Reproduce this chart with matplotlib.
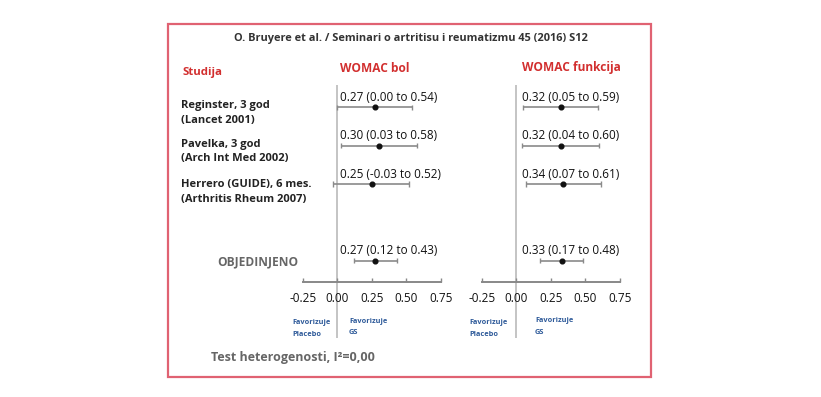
import matplotlib.pyplot as plt
from matplotlib.patches import Rectangle

plt.rcParams['font.family'] = ['Open Sans', 'DejaVu Sans']
plt.rcParams['axes.unicode_minus'] = False

# data
studies = ["Reginster, 3 god", "Pavelka, 3 god", "Herrero (GUIDE), 6 mes."]
sources = ["(Lancet 2001)", "(Arch Int Med 2002)", "(Arthritis Rheum 2007)"]
pain_est = [0.27, 0.30, 0.25, 0.27]
pain_lo = [0.00, 0.03, -0.03, 0.12]
pain_hi = [0.54, 0.58, 0.52, 0.43]
func_est = [0.32, 0.32, 0.34, 0.33]
func_lo = [0.05, 0.04, 0.07, 0.17]
func_hi = [0.59, 0.60, 0.61, 0.48]
ticks = [-0.25, 0.00, 0.25, 0.50, 0.75]

W, H = 821, 397
RED = '#d22f2f'
GRAY = '#666666'
BLUE = '#2f5b9a'
rows = [0, 1, 2, 4]          # pooled row sits lower


def px(x, y):
    return x / W, 1 - y / H


fig = plt.figure(figsize=(W / 100, H / 100), dpi=100)

# frame
fig.patches.append(Rectangle(px(168, 377), (651 - 168) / W, (377 - 24) / H,
                             transform=fig.transFigure, fill=False,
                             edgecolor='#e06272', lw=1.6))

fig.text(*px(411, 39), "O. Bruyere et al. / Seminari o artritisu i reumatizmu 45 (2016) S12",
         ha='center', va='center', fontsize=7.9, weight='bold', color='#333')
fig.text(*px(182, 72), "Studija", ha='left', va='center', fontsize=8.2, weight='bold', color=RED)
fig.text(*px(340, 68), "WOMAC bol", ha='left', va='center', fontsize=8.6, weight='bold', color=RED)
fig.text(*px(522, 68), "WOMAC funkcija", ha='left', va='center', fontsize=8.6, weight='bold', color=RED)

label_y = [(106, 121), (144, 158), (184, 199)]
for name, src, (y1, y2) in zip(studies, sources, label_y):
    fig.text(*px(181, y1), name, ha='left', va='center', fontsize=8, weight='bold', color='#222')
    fig.text(*px(181, y2), src, ha='left', va='center', fontsize=8, weight='bold', color='#222')

fig.text(*px(217, 262), "OBJEDINJENO", ha='left', va='center', fontsize=8.6,
         weight='bold', color=GRAY)
fig.text(*px(211, 357), "Test heterogenosti, I²=0,00", ha='left', va='center',
         fontsize=9, weight='bold', color=GRAY)


def forest(left, est, lo, hi, txt_dx):
    ax = fig.add_axes([left / W, 1 - 338 / H, 138.3 / W, 253 / H])
    ax.set_xlim(-0.25, 0.75)
    ax.set_ylim(6.02, -0.58)
    ax.patch.set_alpha(0)
    for s in ['top', 'right', 'left']:
        ax.spines[s].set_visible(False)
    ax.spines['bottom'].set_position(('data', 4.56))
    ax.spines['bottom'].set_color('#888888')
    ax.spines['bottom'].set_linewidth(1.4)
    ax.set_yticks([])
    ax.set_xticks(ticks)
    ax.set_xticklabels([f"{t:.2f}" for t in ticks])
    ax.tick_params(axis='x', direction='in', length=3, width=1, color='#888888',
                   labelsize=8.5, pad=7, labelcolor='#111')
    ax.axvline(0, color='#c4c4c4', lw=1.4, zorder=0)
    ax.hlines(rows, lo, hi, color='#8a8a8a', lw=1.2)
    ax.vlines(lo, [r - 0.07 for r in rows], [r + 0.07 for r in rows], color='#8a8a8a', lw=1)
    ax.vlines(hi, [r - 0.07 for r in rows], [r + 0.07 for r in rows], color='#8a8a8a', lw=1)
    ax.plot(est, rows, 'o', color='#111', ms=3.4)
    for r, e, a, b in zip(rows, est, lo, hi):
        ax.text(txt_dx, r - 0.25, f"{e:.2f} ({a:.2f} to {b:.2f})", ha='left', va='center',
                fontsize=8.5, color='#111')
    return ax


forest(302.7, pain_est, pain_lo, pain_hi, 0.02)
forest(481.7, func_est, func_lo, func_hi, 0.04)

fav = [(292, 319, "Favorizuje\nPlacebo"), (349, 318, "Favorizuje\nGS"),
       (469, 319, "Favorizuje\nPlacebo"), (535, 317, "Favorizuje\nGS")]
for x, y, t in fav:
    fig.text(*px(x, y), t, ha='left', va='top', fontsize=5.3, weight='bold',
             color=BLUE, linespacing=1.9)

fig.savefig("out.png", dpi=100)
